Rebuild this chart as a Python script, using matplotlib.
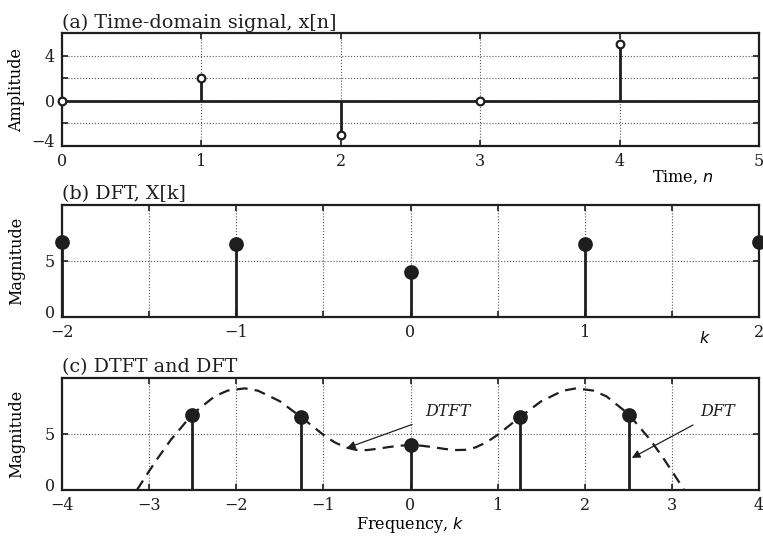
import numpy as np
import matplotlib
matplotlib.use("Agg")
import matplotlib.pyplot as plt
from matplotlib.transforms import ScaledTranslation

# --- data ---
n = [0, 1, 2, 3, 4]
x_n = [0, 2, -3, 0, 5]

k = [-2, -1, 0, 1, 2]
X_mag = [6.67, 6.49, 4.0, 6.49, 6.67]

# DFT bins on the frequency axis (rad/sample)
w_k = [-2.51, -1.26, 0.0, 1.26, 2.51]

# DTFT magnitude over [-pi, pi]
w_dtft = [-3.14, -3.0, -2.9, -2.75, -2.5, -2.25, -2.1, -1.9, -1.75, -1.5,
          -1.25, -1.0, -0.875, -0.75, -0.625, -0.5, -0.375, -0.25, -0.125,
          0.0, 0.125, 0.25, 0.375, 0.5, 0.625, 0.75, 0.875, 1.0, 1.25, 1.5,
          1.75, 1.9, 2.1, 2.25, 2.5, 2.75, 2.9, 3.0, 3.14]
X_dtft = [0.0, 1.69, 2.85, 4.49, 6.79, 8.35, 8.87, 9.07, 8.86, 7.92,
          6.47, 4.92, 4.27, 3.81, 3.58, 3.56, 3.68, 3.83, 3.95,
          4.0, 3.95, 3.83, 3.68, 3.56, 3.58, 3.81, 4.27, 4.92, 6.47, 7.92,
          8.86, 9.07, 8.87, 8.35, 6.79, 4.49, 2.85, 1.69, 0.0]

INK = '#1e1e1e'
plt.rcParams.update({
    'font.family': ['DejaVu Serif'],
    'font.size': 11.5,
    'axes.linewidth': 1.6,
    'axes.edgecolor': INK,
    'xtick.direction': 'in',
    'ytick.direction': 'in',
    'xtick.top': True,
    'ytick.right': True,
    'xtick.major.size': 4,
    'ytick.major.size': 4,
    'xtick.major.width': 1.2,
    'ytick.major.width': 1.2,
    'xtick.major.pad': 5,
    'ytick.major.pad': 5,
    'text.color': INK,
    'xtick.color': INK,
    'ytick.color': INK,
})


def grid(ax):
    ax.grid(True, linestyle=':', linewidth=0.8, color='0.35')
    ax.set_axisbelow(True)


def stems(ax, xs, ys, marker, ms, filled):
    ax.vlines(xs, 0, ys, colors=INK, linewidth=2.0, zorder=3)
    ax.plot(xs, ys, linestyle='none', marker=marker, ms=ms,
            mfc=INK if filled else 'white', mec=INK, mew=1.6,
            zorder=4, clip_on=False)


fig = plt.figure(figsize=(7.63, 5.39), dpi=100)
L, W = 0.0813, 0.9135
ax1 = fig.add_axes([L, 0.729, W, 0.2096])
ax2 = fig.add_axes([L, 0.412, W, 0.2078])
ax3 = fig.add_axes([L, 0.091, W, 0.2078])

# (a) time-domain signal
ax1.axhline(0, color=INK, linewidth=2.0, zorder=3)
stems(ax1, n, x_n, 'o', 5.5, False)
ax1.set_xlim(0, 5)
ax1.set_ylim(-4, 6)
ax1.set_xticks([0, 1, 2, 3, 4, 5])
ax1.set_yticks([-4, -2, 0, 2, 4])
ax1.set_yticklabels(['\u22124', '', '0', '', '4'])
grid(ax1)
ax1.set_ylabel('Amplitude')
ax1.set_xlabel('Time, $\\it{n}$')
ax1.xaxis.set_label_coords(0.89, -0.20)
ax1.set_title('(a) Time-domain signal, x[n]', loc='left', pad=4)

# (b) DFT
stems(ax2, k, X_mag, 'o', 9, True)
ax2.set_xlim(-2, 2)
ax2.set_ylim(0, 10)
ax2.set_xticks(np.arange(-2, 2.01, 0.5))
ax2.set_xticklabels(['\u22122', '', '\u22121', '', '0', '', '1', '', '2'])
ax2.set_yticks([0, 5])
grid(ax2)
ax2.set_ylabel('Magnitude')
ax2.set_xlabel('$\\it{k}$')
ax2.xaxis.set_label_coords(0.922, -0.12)
ax2.set_title('(b) DFT, X[k]', loc='left', pad=4)

# (c) DTFT with DFT samples
ax3.plot(w_dtft, X_dtft, color=INK, linewidth=1.6, dashes=(5, 3.2), zorder=2)
stems(ax3, w_k, X_mag, 'o', 9, True)
ax3.set_xlim(-4, 4)
ax3.set_ylim(0, 10)
ax3.set_xticks(range(-4, 5))
ax3.set_yticks([0, 5])
grid(ax3)
ax3.set_ylabel('Magnitude')
ax3.set_xlabel('Frequency, $\\it{k}$', labelpad=1)
ax3.set_title('(c) DTFT and DFT', loc='left', pad=4)

arrow = dict(arrowstyle='-|>', color=INK, lw=0.9, mutation_scale=12)
ax3.annotate('DTFT', xy=(-0.73, 3.75), xytext=(0.17, 7.0),
             style='italic', va='center', ha='left',
             arrowprops=dict(arrow, shrinkA=8, shrinkB=0))
ax3.annotate('DFT', xy=(2.54, 2.86), xytext=(3.33, 7.0),
             style='italic', va='center', ha='left',
             arrowprops=dict(arrow, shrinkA=4, shrinkB=0))

# lift the bottom y tick label a little so it clears the x tick labels
lift = ScaledTranslation(0, 4 / 72, fig.dpi_scale_trans)
for ax in (ax1, ax2, ax3):
    ax.yaxis.set_label_coords(-0.053, 0.5)
    lab = ax.yaxis.get_major_ticks()[0].label1
    lab.set_transform(lab.get_transform() + lift)

fig.savefig('out.png', dpi=100)
